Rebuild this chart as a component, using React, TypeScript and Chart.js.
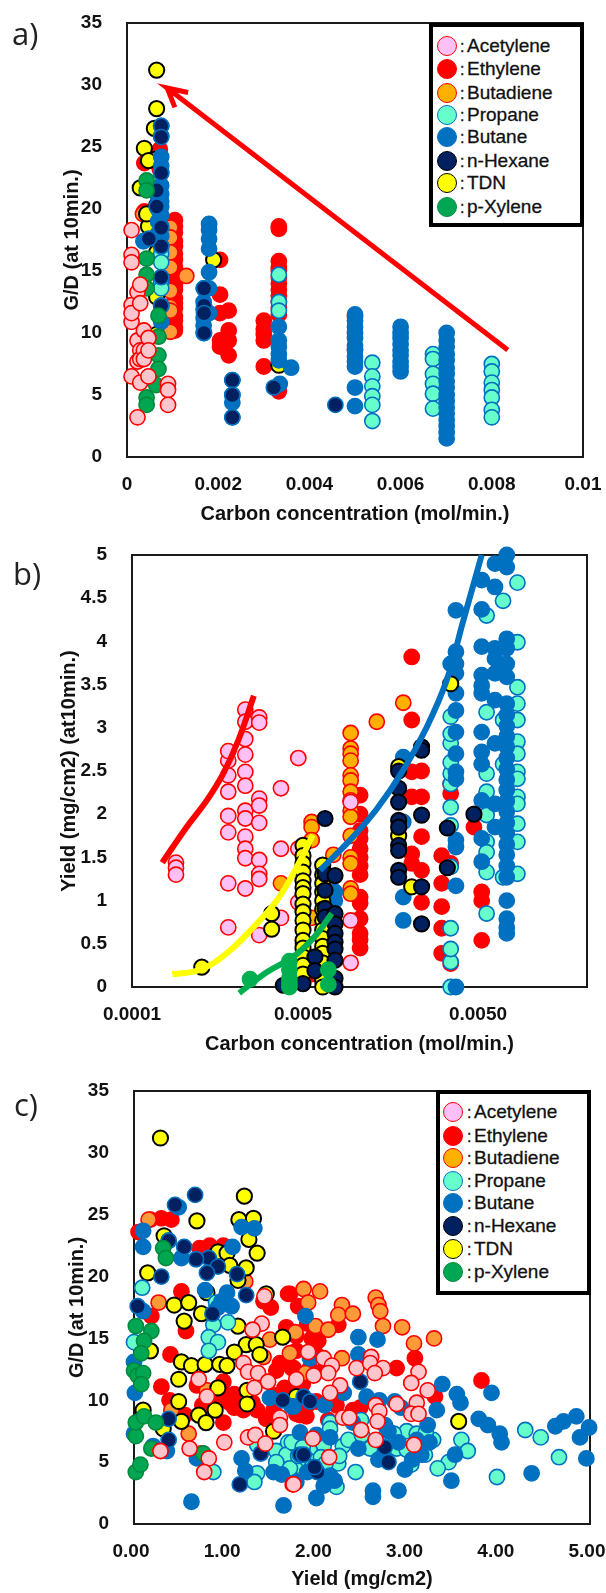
import React, { useEffect, useRef } from "react";
import { Chart, registerables } from "chart.js";

Chart.register(...registerables);
Chart.defaults.font.family = "'Liberation Sans', Arial, sans-serif";

type Col = [number, number[]];
type Pair = [number, number];

const seriesNames = ["Acetylene", "Ethylene", "Butadiene", "Propane", "Butane", "n-Hexane", "TDN", "p-Xylene"];

/* ---------- panel a: carbon concentration vs G/D, columns of [x, y values] ---------- */
const aAcetylene: Col[] = [
  [0.0001, [18.3, 16.3, 15.7, 12.25, 10.9, 11.6, 6.5]],
  [0.00023, [3.2, 7.7, 9.4, 13.3]],
  [0.00029, [13.9, 12.4, 8.6, 7.9, 6]],
  [0.00037, [10.2, 8.6, 7.9]],
  [0.00047, [9.6, 8.6, 6.5]],
  [0.0009, [5.9, 5.4, 4.2]],
];
const aEthylene: Col[] = [
  [0.00105, [19.1, 18.6, 18.1, 17.4, 17, 16.4, 15.9, 15.3, 15, 14.4, 13.9, 13.5, 12.8, 12.4, 12, 11.4, 11, 10.4, 10.2]],
  [0.00038, [23.7, 19.8]],
  [0.00072, [24.8, 24.1, 23.2]],
  [0.00204, [15.9, 13.1, 11.6, 9.4, 8.9]],
  [0.00223, [11.8, 10.2, 9.4, 8.2]],
  [0.00333, [18.6, 18.4, 15.8, 15.3, 15, 14.5, 14, 13.5, 13, 12.5, 12, 11.5, 5.3]],
  [0.003, [11, 10.3, 9.9, 9.4, 7.3]],
  [0.005, [11.3, 8.7]],
];
const aButadiene: Col[] = [
  [0.00095, [18.5, 17.7, 16.5, 15.3, 13.4, 12.1, 11.8, 10.1]],
  [0.0013, [14.6]],
  [0.00035, [19.6]],
];
const aTdn: Col[] = [
  [0.00065, [31.2, 28.1, 12.9, 9.9, 20.3, 16.5]],
  [0.0006, [26.5, 24]],
  [0.00038, [24.9]],
  [0.00047, [23.9, 18.6]],
  [0.00029, [21.7]],
  [0.00043, [19.6]],
  [0.0019, [15.9]],
  [0.00333, [7.4]],
];
const aPropane: Col[] = [
  [0.00075, [16.4, 15.7, 14.1, 13.6]],
  [0.00333, [14.7, 12.5, 11.8]],
  [0.00538, [7.6, 6.5, 5.7, 4.9, 4.2, 2.9]],
  [0.00671, [8.3, 7.9, 6.7, 5.9, 5.1, 3.9]],
  [0.008, [7.5, 6.9, 6, 5.4, 4.8, 3.8, 3.2]],
];
const aButane: Col[] = [
  [0.00075, [26.7, 25.9, 24.2, 23.5, 22.9, 21.9, 21.2, 20.6, 20.2, 19.5, 18.6, 17.8, 17, 12.2, 10.9]],
  [0.00068, [21, 20, 19, 18]],
  [0.00036, [17.4]],
  [0.0018, [18.8, 18.3, 17.6, 16.8, 14.9, 13.6, 11.6]],
  [0.00168, [13.6, 12.5, 11.9, 11.2, 10.6, 10]],
  [0.00231, [6.2, 5, 4.4, 3.2]],
  [0.00333, [10.5, 9.4, 8.9, 8.3, 7.8]],
  [0.00335, [5.9]],
  [0.0036, [7.2]],
  [0.005, [11.5, 11, 10.5, 10, 9.6, 9, 8.6, 8.1, 7.7, 7.3, 5.6, 4.1]],
  [0.006, [10.5, 10, 9.6, 9.1, 8.6, 8.2, 7.7, 7.3, 6.9]],
  [0.00701, [10, 9.4, 8.9, 8.3, 7.8, 7.2, 6.7, 6.1, 5.6, 5, 4.5, 4, 3.5, 3, 2.5, 2, 1.5]],
];
const aHexane: Col[] = [
  [0.00075, [26.7, 25.8, 22.9, 18.5, 17, 14.5, 12.2]],
  [0.00065, [21.5, 20.2]],
  [0.00048, [17.6]],
  [0.00169, [13.6, 12.2, 11.6, 10]],
  [0.00231, [6.2, 5, 3.2]],
  [0.00322, [5.6]],
  [0.00457, [4.2]],
];
const aXylene: Col[] = [
  [0.00043, [22.3, 21.5, 16, 14.7, 13.6, 4.8, 4.2]],
  [0.00069, [11.4, 9.7, 8.2, 7.1]],
  [0.00064, [5.8]],
];
const aArrow: Pair[] = [[0.00835, 8.63], [0.00088, 29.76], [0.00134, 29.4], [0.00088, 29.76], [0.00105, 28.2]];

/* ---------- panel b: carbon concentration (log) vs yield ---------- */
const bAcetylene: Col[] = [
  [0.000094, [1.44, 1.38, 1.3]],
  [0.000187, [0.69, 1.2, 1.79, 1.98, 2.26, 2.45, 2.62, 2.73]],
  [0.000234, [3.21, 3.07, 2.87, 2.69, 2.49, 2.33, 2.04, 1.95, 1.74, 1.6, 1.49, 1.14]],
  [0.000281, [3.12, 3.06, 2.18, 2.1, 1.9, 1.47, 1.31, 1.25, 0.6]],
  [0.000374, [2.3, 1.6, 0.8]],
  [0.00047, [2.65, 1.6, 0.98]],
  [0.000936, [2.14, 0.77, 0.28]],
];
const bEthylene: Col[] = [
  [0.00106, [2.22, 2, 1.81, 1.72, 1.6, 1.5, 1.4, 1.3, 1.04, 0.97, 0.79, 0.62, 0.55, 0.45]],
  [0.00209, [3.82, 3.09, 2.49, 2.2, 1.54, 1.43]],
  [0.00238, [2.5, 2.2, 1.74, 1.35, 0.98]],
  [0.0031, [1.52, 1.2, 0.93, 0.68, 0.39]],
  [0.00349, [2.35, 2.24, 1.43, 0.27]],
  [0.00525, [1.1, 1, 0.54]],
  [0.00474, [1.85]],
  [0.0005, [0.31, 0.5]],
  [0.00056, [0.3, 0.15, 1.7]],
];
const bButadiene: Col[] = [
  [0.000936, [2.94, 2.76, 2.7, 2.62, 2.45, 2.39, 2.26, 2.16, 2.04, 1.97, 1.75, 1.5, 1.43, 1.14, 1.08]],
  [0.00132, [3.07]],
  [0.00187, [3.29]],
  [0.000745, [1.53]],
  [0.00056, [1.91, 1.85, 1.7, 0.8, 0.3]],
  [0.000374, [1.2]],
];
const bPropane: Col[] = [
  [0.00349, [0, 0.29, 0.44, 0.68, 1.39, 1.87, 2.08, 2.35, 2.47, 2.6, 2.82, 2.93, 3.13]],
  [0.0056, [4.3, 3.18, 2.47, 2.26, 1.99, 1.68, 1.56, 1.33, 0.85]],
  [0.00695, [4.47, 3.09, 2.58, 1.27]],
  [0.0084, [4.68, 3.99, 3.47, 3.28, 3.09, 2.84, 2.7, 2.49, 2.41, 2.2, 2.12, 1.89, 1.68, 1.31]],
];
const bButane: Col[] = [
  [0.00374, [4.36, 3.88, 3.74, 3.63, 3.4, 3.2, 2.95, 2.7, 2.49, 2.41, 1.7, 1.62, 1.17, 0]],
  [0.00349, [3.74]],
  [0.00525, [4.71, 4.37, 3.94, 3.61, 3.49, 3.4, 2.95, 2.72, 2.58, 2.16, 1.72, 1.45]],
  [0.00625, [4.9, 4.63, 3.92, 3.8, 3.63, 3.32, 2.82, 2.12, 1.85]],
  [0.0073, [5, 4.86, 4.03, 3.92, 3.74, 3.59, 3.28, 3.15, 3.02, 2.9, 2.78, 2.65, 2.52, 2.4, 2.28, 2.15, 2.03, 1.9, 1.78, 1.65, 1.53, 1.4, 1.27, 1, 0.79, 0.69, 0.62]],
  [0.00187, [2.66, 1.91, 1.04, 0.77]],
  [0.00076, [1.1, 1]],
];
const bTdn: Col[] = [
  [0.000132, [0.23]],
  [0.000331, [0.85, 0.67]],
  [0.0005, [1.64, 1.52, 1.43, 1.33, 1.23, 1.15, 1.08, 0.96, 0.87, 0.77, 0.66, 0.54, 0.45, 0.35, 0.25, 0.15]],
  [0.000648, [1.41, 1.3, 1.2, 1.1, 1, 0.9, 0.77, 0.66, 0.56, 0.47, 0.39, 0.28, 0.15, 0.07, 0]],
  [0.00209, [1.16]],
  [0.00176, [2.55, 1.75]],
  [0.00349, [3.51]],
];
const bHexane: Col[] = [
  [0.000668, [1.95, 1.31, 1.12, 0.91, 0.81]],
  [0.000762, [1.29, 0.85, 0.73, 0.62, 0.52, 0.44, 0.31, 0.1, 0]],
  [0.000386, [0.02]],
  [0.0005, [0.04]],
  [0.000585, [0.35, 0.19]],
  [0.00176, [2.5, 2.3, 2.14, 1.93, 1.85, 1.64, 1.58, 1.35, 1.27]],
  [0.00238, [2.78, 2.74, 1.99, 1.16, 0.73]],
  [0.00334, [1.84, 1.38]],
  [0.00474, [2]],
];
const bXylene: Col[] = [
  [0.000249, [0.09]],
  [0.000418, [0.3, 0.2, 0.1, 0.05, 0]],
  [0.000698, [0.2, 0.03]],
];
const bRedCurve: Pair[] = [[0.0000785, 1.44], [0.000108, 1.85], [0.000141, 2.16], [0.000175, 2.47], [0.000213, 2.85], [0.000262, 3.37]];
const bYellowCurve: Pair[] = [[0.0000896, 0.147], [0.000129, 0.2], [0.000183, 0.39], [0.00026, 0.69], [0.000354, 1], [0.00045, 1.35], [0.00057, 1.76]];
const bGreenCurve: Pair[] = [[0.000216, -0.07], [0.00031, 0.17], [0.00044, 0.35], [0.00057, 0.56], [0.00073, 0.85]];
const bBlueCurve: Pair[] = [[0.000625, 1.35], [0.000928, 1.7], [0.00132, 2.06], [0.00187, 2.51], [0.00255, 3.01], [0.00331, 3.55], [0.00412, 4.24], [0.00525, 5]];

/* ---------- panel c: yield vs G/D ---------- */
const cAcetylene: Pair[] = [
  [1.43, 18.4], [1.4, 16.2], [1.3, 15.7], [1.2, 13], [1.25, 12.3], [1.36, 12.2], [1.47, 11.5], [0.71, 11.7], [0.8, 10.3], [1.32, 11],
  [1.6, 8.6], [1.6, 8], [0.29, 5.9], [0.61, 6.1], [0.82, 5.3], [0.77, 4.2], [0.99, 6.6], [1.25, 7], [1.33, 7.2], [1.44, 6.5], [1.74, 3.2],
  [1.78, 11.7], [1.91, 13.9], [2.08, 13.4], [2.17, 12.8], [2.13, 12.2], [1.97, 12], [2.26, 11.2], [2.15, 10.6], [2.44, 12.6], [2.6, 13.5],
  [2.59, 13], [2.73, 12.6], [2.64, 12.2], [3.12, 12.3], [3.04, 11.4], [3.22, 10.8], [3.1, 9.8], [2.88, 9.7], [2.65, 9.6], [2.69, 9.1],
  [3.04, 8.9], [3.12, 8.9], [2.67, 8.3], [2.29, 8.6], [2.36, 8.6], [2.49, 7.6], [2.65, 6.8], [3.07, 6.4], [1.96, 6.9], [2.14, 5.4], [1.75, 3.2],
];
const cEthylene: Pair[] = [
  [0.05, 23.6], [0.18, 24.6], [0.3, 24.7], [0.41, 24.6], [0.72, 22.3], [0.83, 22.5], [0.98, 22.5], [0.52, 18.8], [1.5, 17.5], [1.69, 18.6],
  [1.42, 18], [1.67, 15.9], [1.78, 15.2], [0.19, 16.8], [0.57, 15.6], [0.4, 13.7], [0.3, 11.1], [0.39, 10], [0.69, 11.2], [0.98, 11.5],
  [1.56, 12.4], [1.75, 12.6], [0.98, 8.2], [1.05, 9.8], [1.14, 9.5], [0.91, 9.8], [0.87, 10.2], [1.45, 8.5], [1.35, 9.2], [0.56, 8.8],
  [1.78, 8.9], [1.53, 9.2], [1.71, 18.6], [1.8, 17.6], [2.24, 16.1], [2.02, 14.8], [1.78, 14], [2.88, 12.6], [3.08, 13.4], [3.81, 11.6],
  [3.3, 10.3], [2.22, 9.6], [2.4, 9.2], [2.48, 9.4], [1.82, 8.8], [2.13, 8.4], [1.8, 10.6], [1.89, 8.7], [1.93, 12.6], [1.73, 12.6], [2, 13.7],
  [1.1, 10.5], [1.2, 9.2], [1.3, 9.8], [1.6, 13], [1.85, 11.3], [1.9, 16.2], [1.95, 15], [2.1, 12.6], [1.65, 11], [1.55, 10.4], [1.9, 9.6], [2, 9.9], [0.75, 9.6], [1, 10.4], [1.1, 9.4],
];
const cButadiene: Pair[] = [
  [0.16, 24.6], [0.27, 17.9], [0.6, 7.3], [0.41, 9.2], [1.22, 19.6], [1.49, 14.9], [1.71, 13.8], [1.77, 15.5], [1.86, 19], [0.8, 10.8],
  [1.42, 13.5], [0.74, 5.7], [2.04, 18.8], [1.91, 17.9], [2.28, 17.7], [2.24, 16.9], [2.4, 17], [1.99, 16], [2.13, 15.7], [2.65, 18.3],
  [2.68, 17.7], [2.7, 17.2], [2.73, 16], [2.94, 15.9], [3.07, 14.6], [3.29, 15], [2.28, 13.4], [1.88, 12.2],
];
const cPropane: Pair[] = [
  [0.09, 19.1], [0.9, 17.9], [1.03, 16.3], [0.87, 16.1], [0.82, 15.1], [0.92, 14.7], [0.82, 14], [0, 14.7], [1.35, 4.1], [1.32, 3.4], [0.87, 4.2],
  [1.35, 6.4], [1.56, 5.9], [1.69, 6.6], [1.75, 5.2], [1.67, 5.6], [1.56, 5], [1.78, 4.7], [1.77, 6.4], [2.15, 8.2], [2.15, 7.7], [2.29, 6.3],
  [2.49, 8.4], [2.99, 7.5], [3.1, 7.3], [3.28, 6.8], [3.59, 6.8], [3.66, 5.9], [3.45, 5], [3.33, 4.5], [3.04, 4.8], [4.29, 7.6], [4.46, 7],
  [4.66, 5.4], [3.98, 3.8], [2.43, 4.2], [2.22, 3], [2.24, 4.9], [2.08, 6.3], [2.59, 6.1], [2.88, 6.1], [2.99, 6], [3.19, 5.6], [1.93, 5.9], [1.73, 6.6], [1.71, 4.5],
  [1.85, 6.2], [1.9, 5.2], [1.95, 4.6], [2.05, 5.4], [2.1, 4.9], [1.8, 5.5], [2.25, 5.5], [2.35, 6.8], [2.5, 7.2], [2.75, 7], [2.85, 7.3], [3.2, 7.4],
];
const cButane: Pair[] = [
  [0.1, 23.7], [0.1, 22.4], [0.49, 25.6], [0.38, 22.9], [0.52, 21.5], [1.08, 22.4], [1.18, 24], [1.32, 23.9], [0.78, 18.9], [1.02, 18.7],
  [0.96, 18], [1.07, 17.6], [0.92, 17.5], [0.1, 17.2], [0, 13.1], [0.01, 10.6], [0.63, 1.8], [1.64, 1.5], [1.18, 5.3], [1.22, 4.3], [1.53, 4.2],
  [1.62, 4], [0.36, 5.9], [0.69, 5.3], [0.21, 6.3], [0, 7.3], [1.49, 10.2], [1.73, 9.5], [1.88, 16.8], [2.46, 15.1], [2.67, 14.9], [2.46, 13.7],
  [1.93, 13.4], [3.38, 11.3], [3.54, 10.5], [3.58, 9.8], [3.92, 10.6], [3.32, 9.2], [3.78, 8.5], [3.88, 8], [4.01, 7.3], [4.03, 6.6], [3.22, 8],
  [3.24, 6.6], [3.52, 5.6], [3.48, 3.5], [2.97, 4.4], [2.9, 2.7], [2.62, 2.2], [2.62, 2.7], [2, 2.1], [2.2, 3.5], [2.08, 3.1], [4.36, 4.1],
  [4.96, 5.3], [4.62, 7.9], [4.71, 8.3], [4.85, 8.7], [4.99, 7.8], [4.89, 7], [2.55, 10.3], [2.69, 10], [2.86, 9.9], [2.93, 9.4], [2.46, 6.1],
  [2.15, 7], [1.82, 7.4], [2.79, 7.5], [2.68, 5.2], [3.15, 5.6], [2.09, 9.6], [1.78, 3.4], [1.75, 9.5],
  [2.3, 10.6], [2.4, 8.2], [2, 7.2], [2.75, 8], [2.9, 6.6], [3.05, 5.2], [1.9, 4.2], [2.15, 3.9], [3.1, 6.8],
];
const cHexane: Pair[] = [
  [0.67, 26.6], [0.45, 25.8], [0.38, 22.9], [0.55, 22.4], [0.82, 21.5], [0.68, 21.4], [0.92, 20.8], [0.8, 20.3], [1.13, 20.2], [0.3, 20],
  [1.23, 18.5], [0.04, 17.6], [0.86, 17], [0.38, 8.5], [0.38, 6.8], [1.16, 3.2], [1.39, 5.7], [1.63, 10], [1.82, 5.6], [1.86, 10.3], [1.93, 9.9],
  [2.48, 11.5], [2.75, 6.2], [2.79, 5], [1.86, 5.6], [2.01, 4.2], [1.98, 4.6],
];
const cTdn: Pair[] = [
  [0.29, 31.2], [1.21, 26.5], [0.69, 24.5], [1.15, 24.6], [1.31, 24.7], [0.33, 23.3], [1.26, 23], [0.92, 22], [1.35, 21.9], [1.02, 21.9],
  [1.05, 20.9], [1.23, 20.7], [0.15, 20.3], [1.14, 19.7], [0.8, 18.7], [1.45, 18.6], [0.44, 17.7], [0.6, 17.9], [0.74, 17], [0.55, 16.4],
  [1.14, 16], [1.63, 15.1], [1.23, 14.5], [1.34, 14.5], [1.38, 13.7], [1.1, 13.9], [0.18, 14], [0.52, 13.1], [0.63, 12.8], [0.78, 12.9],
  [0.94, 12.9], [1.02, 12.8], [0.49, 11.7], [0.92, 11], [1.24, 10.8], [1.24, 9.7], [0.49, 9.9], [0.89, 9.2], [0.71, 8.8], [0.79, 8.2],
  [0.52, 8.3], [0.1, 9.2], [0.32, 7.7], [1.53, 7.5], [1.78, 10.3], [3.56, 8.3],
];
const cXylene: Pair[] = [
  [0.02, 4.2], [0.07, 4.8], [0.02, 7.1], [0.02, 8.2], [0.11, 8.7], [0.24, 8.2], [0.19, 6.1], [0.32, 22.3], [0.35, 21.5], [0.02, 16], [0.19, 15.6],
  [0.11, 14.8], [0.08, 13.8], [0, 12.4], [0.04, 12], [0.1, 12.2], [0.08, 11.3], [0.76, 5.7],
];

/* ---------- ticks ---------- */
const aXTickLabels = ["0", "0.002", "0.004", "0.006", "0.008", "0.01"];
const bXTickValues = [0.0000527, 0.0005, 0.005];
const bXTickLabels = ["0.0001", "0.0005", "0.0050"];
const bYTickLabels = ["0", "0.5", "1", "1.5", "2", "2.5", "3", "3.5", "4", "4.5", "5"];
const cXTickLabels = ["0.00", "1.00", "2.00", "3.00", "4.00", "5.00"];

const fromCols = (cols: Col[]) => cols.flatMap(([x, ys]) => ys.map((y) => ({ x, y })));
const fromPairs = (pairs: Pair[]) => pairs.map(([x, y]) => ({ x, y }));

const RED = "#FF0000";
const BLUE = "#0070C0";
const styleAC = {
  Acetylene: ["#FFC5CC", RED], Ethylene: [RED, RED], Butadiene: ["#FF9A38", RED], Propane: ["#66FFCC", BLUE],
  Butane: [BLUE, BLUE], "n-Hexane": ["#002060", BLUE], TDN: ["#FFFF00", "#000000"], "p-Xylene": ["#00A651", "#008A3E"],
} as Record<string, string[]>;
const styleB = {
  ...styleAC, Acetylene: ["#FFC0F5", RED], Butadiene: ["#FFB000", RED], "n-Hexane": ["#002060", "#000000"], "p-Xylene": ["#00B050", "#00B050"],
} as Record<string, string[]>;
const legendStyle = {
  ...styleB, "n-Hexane": ["#002060", "#000000"], "p-Xylene": ["#00A651", "#008A3E"],
} as Record<string, string[]>;

const points = (name: string, data: { x: number; y: number }[], style: Record<string, string[]>) => ({
  type: "scatter", label: name, data, clip: false,
  pointRadius: 7.6, pointBorderWidth: style[name][1] === "#000000" ? 2 : 1.6,
  pointBackgroundColor: style[name][0], pointBorderColor: style[name][1], showLine: false,
});
const curve = (name: string, data: { x: number; y: number }[], color: string, width: number, tension: number) => ({
  type: "scatter", label: name, data, clip: false, showLine: true, pointRadius: 0, borderColor: color, borderWidth: width, tension, borderCapStyle: "butt",
});

const frame = {
  id: "frame",
  beforeDatasetsDraw(chart: any) {
    const { ctx, chartArea: a } = chart;
    ctx.save();
    ctx.strokeStyle = "#1a1a1a";
    ctx.lineWidth = 2;
    ctx.strokeRect(a.left, a.top, a.right - a.left, a.bottom - a.top);
    ctx.restore();
  },
};

type PanelProps = {
  top: number; height: number; L: number; R: number; T: number; B: number; titleX: number; titlePad: number;
  datasets: any[]; x: any; y: any; xTitle: string; yTitle: string;
};

function Panel(p: PanelProps) {
  const ref = useRef<HTMLCanvasElement>(null);
  useEffect(() => {
    const padLeft = p.titleX - 12;
    const fitY = (s: any) => { s.width = p.L - padLeft; s.paddingTop = 0; s.paddingBottom = 0; };
    const fitX = (s: any) => { s.height = p.height - p.B; s.paddingLeft = 0; s.paddingRight = 0; };
    const tickFont = { size: 19, weight: "bold" as const };
    /* Chart.js paints the first dataset last, so the lists below (bottom to top) are reversed. */
    const chart = new Chart(ref.current as HTMLCanvasElement, {
      type: "scatter",
      data: { datasets: [...p.datasets].reverse() },
      plugins: [frame],
      options: {
        animation: false, responsive: false, events: [],
        layout: { padding: { top: p.T, left: padLeft, right: 606 - p.R, bottom: 0 } },
        plugins: { legend: { display: false }, tooltip: { enabled: false } },
        scales: {
          x: {
            ...p.x, afterFit: fitX,
            grid: { display: false }, border: { display: false },
            ticks: { ...p.x.ticks, font: tickFont, color: "#111", padding: 8, maxRotation: 0, autoSkip: false },
            title: { display: true, text: p.xTitle, color: "#111", font: { size: 20, weight: "bold" }, padding: { top: 0, bottom: p.titlePad } },
          },
          y: {
            ...p.y, afterFit: fitY,
            grid: { display: false }, border: { display: false },
            ticks: { ...p.y.ticks, font: tickFont, color: "#111", padding: 17, autoSkip: false },
            title: { display: true, text: p.yTitle, color: "#111", font: { size: 20, weight: "bold" }, padding: { top: 0, bottom: 0 } },
          },
        },
      } as any,
    });
    return () => chart.destroy();
  }, []);
  return <canvas ref={ref} width={606} height={p.height} style={{ position: "absolute", left: 0, top: p.top, width: 606, height: p.height, display: "block" }} />;
}

function Legend({ left, top, w, h, rowY, markX, textX }: { left: number; top: number; w: number; h: number; rowY: number[]; markX: number; textX: number }) {
  return (
    <div style={{ position: "absolute", left, top, width: w, height: h, boxSizing: "border-box", border: "4px solid #000", background: "#fff" }}>
      {seriesNames.map((name, i) => (
        <React.Fragment key={name}>
          <div style={{
            position: "absolute", left: markX - left - 4 - 10, top: rowY[i] - top - 4 - 10, width: 20, height: 20, boxSizing: "border-box", borderRadius: "50%",
            background: legendStyle[name][0], border: `1.6px solid ${legendStyle[name][1]}`,
          }} />
          <div style={{
            position: "absolute", left: textX - left - 4 - 7, top: rowY[i] - top - 4 - 12, height: 24, lineHeight: "24px", whiteSpace: "nowrap",
            fontFamily: "'Liberation Sans', Arial, sans-serif", fontSize: 19, color: "#111", WebkitTextStroke: "0.3px #111",
          }}>
            <span style={{ display: "inline-block", width: 7, fontSize: 16 }}>:</span>{name}
          </div>
        </React.Fragment>
      ))}
    </div>
  );
}

const panelLabel = (text: string, left: number, baseline: number) => (
  <div style={{ position: "absolute", left, top: baseline - 32, height: 40, lineHeight: "40px", fontFamily: "'Open Sans', sans-serif", fontSize: 31, color: "#222" }}>{text}</div>
);

const aDatasets = [
  points("Ethylene", fromCols(aEthylene), styleAC),
  points("Butadiene", fromCols(aButadiene), styleAC),
  points("TDN", fromCols(aTdn), styleAC),
  points("Propane", fromCols(aPropane), styleAC),
  points("Butane", fromCols(aButane), styleAC),
  points("n-Hexane", fromCols(aHexane), styleAC),
  points("p-Xylene", fromCols(aXylene), styleAC),
  points("Acetylene", fromCols(aAcetylene), styleAC),
  curve("Trend arrow", fromPairs(aArrow), RED, 5, 0),
];
const bDatasets = [
  points("Ethylene", fromCols(bEthylene), styleB),
  points("Butadiene", fromCols(bButadiene), styleB),
  points("Acetylene", fromCols(bAcetylene), styleB),
  points("Propane", fromCols(bPropane), styleB),
  points("Butane", fromCols(bButane), styleB),
  points("TDN", fromCols(bTdn), styleB),
  points("n-Hexane", fromCols(bHexane), styleB),
  points("p-Xylene", fromCols(bXylene), styleB),
  curve("Acetylene fit", fromPairs(bRedCurve), RED, 6, 0.4),
  curve("TDN fit", fromPairs(bYellowCurve), "#FFFF00", 6, 0.4),
  curve("p-Xylene fit", fromPairs(bGreenCurve), "#00B050", 6, 0.4),
  curve("Butane fit", fromPairs(bBlueCurve), BLUE, 6, 0.4),
];
const cDatasets = [
  points("Ethylene", fromPairs(cEthylene), styleAC),
  points("Butadiene", fromPairs(cButadiene), styleAC),
  points("TDN", fromPairs(cTdn), styleAC),
  points("Propane", fromPairs(cPropane), styleAC),
  points("Butane", fromPairs(cButane), styleAC),
  points("n-Hexane", fromPairs(cHexane), styleAC),
  points("p-Xylene", fromPairs(cXylene), styleAC),
  points("Acetylene", fromPairs(cAcetylene), styleAC),
];

const gdAxis = { type: "linear", min: 0, max: 35, ticks: { stepSize: 5 } };

export default function App() {
  return (
    <div style={{ position: "absolute", left: 0, top: 0, width: 606, height: 1593, overflow: "hidden", background: "#fff" }}>
      <Panel
        top={0} height={530} L={127} R={583} T={23} B={457} titleX={72} titlePad={4}
        datasets={aDatasets} xTitle="Carbon concentration (mol/min.)" yTitle="G/D (at 10min.)"
        x={{ type: "linear", min: 0, max: 0.01, ticks: { stepSize: 0.002, callback: (_: any, i: number) => aXTickLabels[i] } }}
        y={gdAxis}
      />
      <Panel
        top={530} height={530} L={132} R={587} T={25} B={457} titleX={69} titlePad={4}
        datasets={bDatasets} xTitle="Carbon concentration (mol/min.)" yTitle="Yield (mg/cm2) (at10min.)"
        x={{
          type: "logarithmic", min: bXTickValues[0], max: 0.02098,
          afterBuildTicks: (s: any) => { s.ticks = bXTickValues.map((value) => ({ value })); },
          ticks: { callback: (_: any, i: number) => bXTickLabels[i] },
        }}
        y={{ type: "linear", min: 0, max: 5, ticks: { stepSize: 0.5, callback: (_: any, i: number) => bYTickLabels[i] } }}
      />
      <Panel
        top={1050} height={543} L={134} R={590} T={41} B={474} titleX={77} titlePad={2}
        datasets={cDatasets} xTitle="Yield (mg/cm2)" yTitle="G/D (at 10min.)"
        x={{ type: "linear", min: 0, max: 5, ticks: { stepSize: 1, labelOffset: -3, callback: (_: any, i: number) => cXTickLabels[i] } }}
        y={gdAxis}
      />
      <Legend left={429} top={23} w={155} h={204} rowY={[45.7, 69.3, 92.7, 115, 137.3, 160.7, 183.3, 206.7]} markX={447} textX={467} />
      <Legend left={436} top={1090} w={155} h={205} rowY={[1112, 1136, 1158, 1181, 1203, 1226, 1249, 1272]} markX={453} textX={474} />
      {panelLabel("a)", 12, 45)}
      {panelLabel("b)", 13, 585)}
      {panelLabel("c)", 14, 1116)}
    </div>
  );
}
